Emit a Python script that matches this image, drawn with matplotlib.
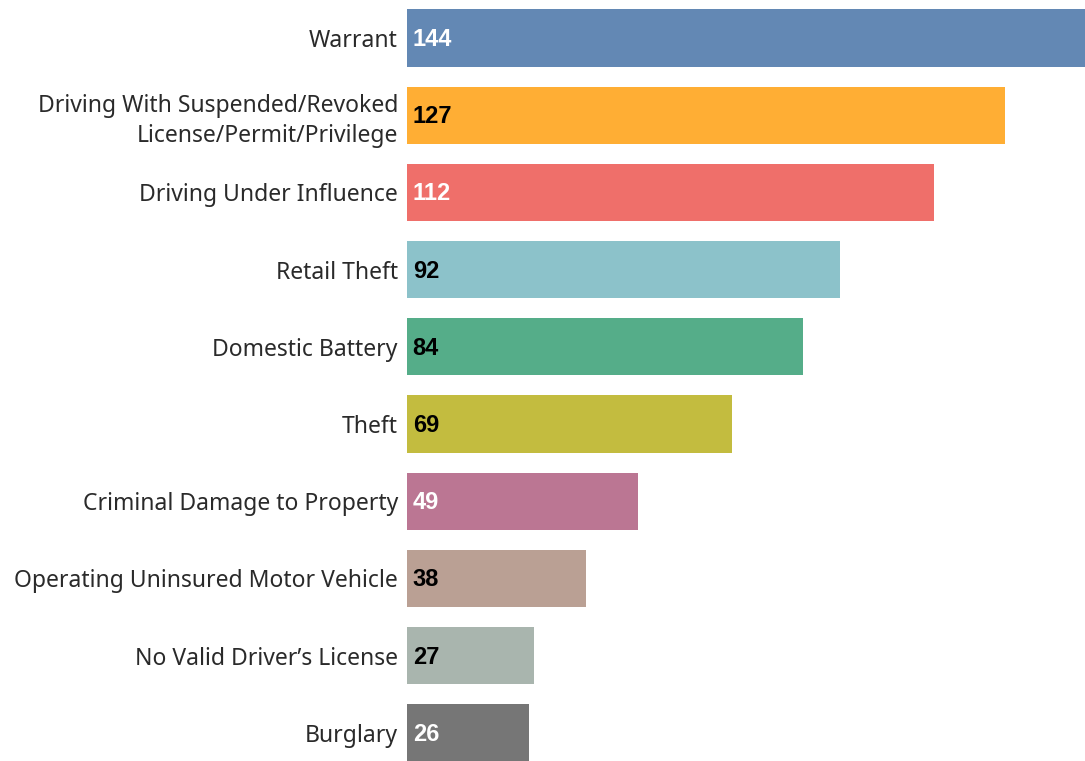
import matplotlib.pyplot as plt

categories = ["Warrant",
              "Driving With Suspended/Revoked\nLicense/Permit/Privilege",
              "Driving Under Influence",
              "Retail Theft",
              "Domestic Battery",
              "Theft",
              "Criminal Damage to Property",
              "Operating Uninsured Motor Vehicle",
              "No Valid Driver\u2019s License",
              "Burglary"]
counts = [144, 127, 112, 92, 84, 69, 49, 38, 27, 26]
colors = ["#6388b4", "#ffae34", "#ef6f6a", "#8cc2ca", "#55ad89",
          "#c3bc3f", "#bb7693", "#baa094", "#a9b5ae", "#767676"]
label_colors = ["white", "black", "white", "black", "black",
                "black", "white", "black", "black", "white"]

fig = plt.figure(figsize=(10.85, 7.61), dpi=100)
ax = fig.add_axes([407 / 1085, 0, 1 - 407 / 1085, 1])

pos = list(range(len(categories)))
ax.barh(pos, counts, height=0.74, color=colors)
ax.set_xlim(0, 144)
ax.set_ylim(9.365, -0.492)

# value labels inside the bars
for i, (v, c) in enumerate(zip(counts, label_colors)):
    ax.text(1.2, i + 0.02, str(v), va="center", ha="left", color=c,
            fontsize=17, fontweight="bold", family="Liberation Sans")

ax.set_yticks(pos)
ax.set_yticklabels(categories, fontsize=16.5, family="Noto Sans", color="#2a2a2a",
                   linespacing=1.35)
ax.tick_params(axis="y", length=0, pad=6.5)
ax.set_xticks([])
for s in ax.spines.values():
    s.set_visible(False)

fig.savefig("out.png", dpi=100)
